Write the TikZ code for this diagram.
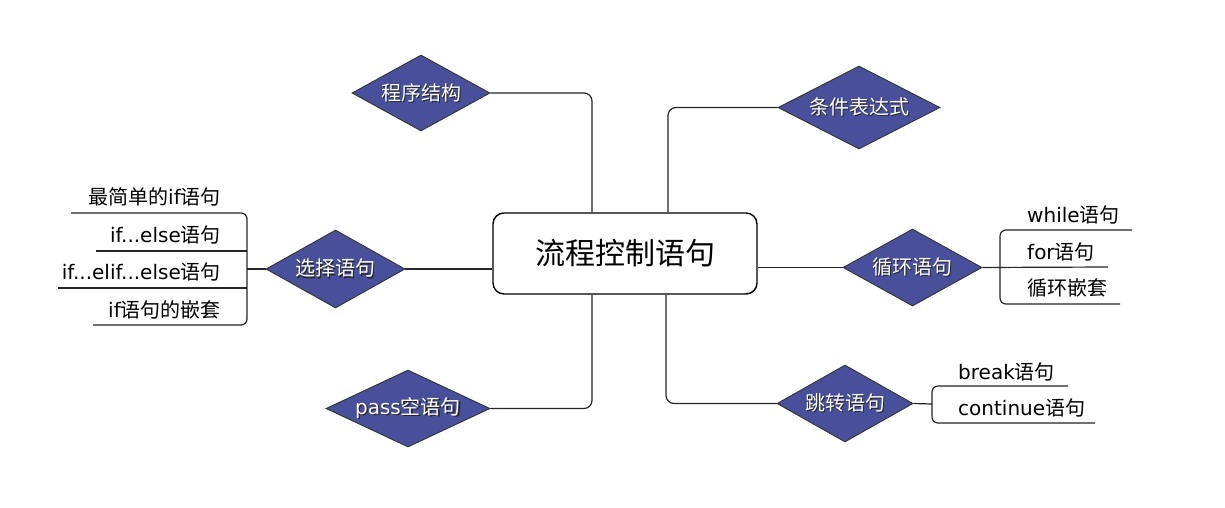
\documentclass[tikz,border=0pt]{standalone}
\usepackage{fontspec}
\setmainfont{DejaVu Sans}
\newfontfamily\cjk{Noto Sans CJK SC}
\usetikzlibrary{shapes.geometric}
\definecolor{dfill}{RGB}{72,80,155}
\newcommand\shtext[1]{\makebox[0pt][l]{\kern1.2pt\raisebox{-1.2pt}{\color{black!85}#1}}{\color{white}#1}}
\begin{document}
\begin{tikzpicture}[x=1pt,y=-1pt,
 dia/.style={shape=diamond, aspect=2.2, draw=black!80, line width=0.9pt, fill=dfill, inner sep=0pt, font=\fontsize{20}{24}\selectfont},
 conn/.style={draw=black!85, line width=1.2pt, rounded corners=8pt},
 leaf/.style={inner sep=0pt, font=\fontsize{20}{24}\selectfont},
 hub/.style={draw=black, line width=1.4pt, rounded corners=11pt, minimum width=264pt, minimum height=81pt, font=\cjk\fontsize{30}{36}\selectfont}]
\useasboundingbox[fill=white] (0,0) rectangle (1225,507);

\node[hub] (hub) at (625,253.5) {流程控制语句};

\node[dia, minimum width=138pt, minimum height=76pt] (prog) at (421,93) {\shtext{\cjk 程序结构}};
\node[dia, minimum width=162pt, minimum height=83pt] (cond) at (859,107.5) {\shtext{\cjk 条件表达式}};
\node[dia, minimum width=139pt, minimum height=78pt] (sel) at (335.5,269) {\shtext{\cjk 选择语句}};
\node[dia, minimum width=139pt, minimum height=77pt] (loop) at (912.5,267.5) {\shtext{\cjk 循环语句}};
\node[dia, minimum width=164pt, minimum height=77pt] (pass) at (408,408.5) {\shtext{pass{\cjk 空语句}}};
\node[dia, minimum width=136pt, minimum height=77pt] (jump) at (845,403.5) {\shtext{\cjk 跳转语句}};

\draw[conn] (prog.east) -| ([xshift=-33pt]hub.north);
\draw[conn] (cond.west) -| ([xshift=43pt]hub.north);
\draw[conn] (pass.east) -| ([xshift=-33pt]hub.south);
\draw[conn] (jump.west) -| ([xshift=41pt]hub.south);
\draw[conn] (sel.east) -- (sel.east -| hub.west);
\draw[conn] (loop.west) -- (loop.west -| hub.east);

% selection leaves
\node[leaf, anchor=base east] (s1) at (221,204) {{\cjk 最简单的}if{\cjk 语句}};
\node[leaf, anchor=base east] (s2) at (221,242) {if...else{\cjk 语句}};
\node[leaf, anchor=base east] (s3) at (221,279) {if...elif...else{\cjk 语句}};
\node[leaf, anchor=base east] (s4) at (221,317) {if{\cjk 语句的嵌套}};
\coordinate (selb) at (247,269);
\draw[conn, rounded corners=6pt] (71,213) -- (247,213) -- (247,325) -- (93,325);
\draw[conn] (96,251) -- (247,251);
\draw[conn] (58,288) -- (247,288);
\draw[conn] (sel.west) -- (selb);

% loop leaves
\node[leaf, anchor=base west] (w1) at (1027,222) {while{\cjk 语句}};
\node[leaf, anchor=base west] (w2) at (1027,259) {for{\cjk 语句}};
\node[leaf, anchor=base west] (w3) at (1027,295) {\cjk 循环嵌套};
\coordinate (loope) at (1108,267);
\draw[conn, rounded corners=6pt] (1132,230) -- (1000,230) -- (1000,304) -- (1120,304);
\draw[conn] (loop.east) -- (loope);

% jump leaves
\node[leaf, anchor=base west] (j1) at (958,379) {break{\cjk 语句}};
\node[leaf, anchor=base west] (j2) at (958,415) {continue{\cjk 语句}};
\coordinate (jumpb) at (932,404);
\draw[conn, rounded corners=6pt] (1068,386) -- (932,386) -- (932,423) -- (1095,423);
\draw[conn] (jump.east) -- (jumpb);
\end{tikzpicture}
\end{document}
